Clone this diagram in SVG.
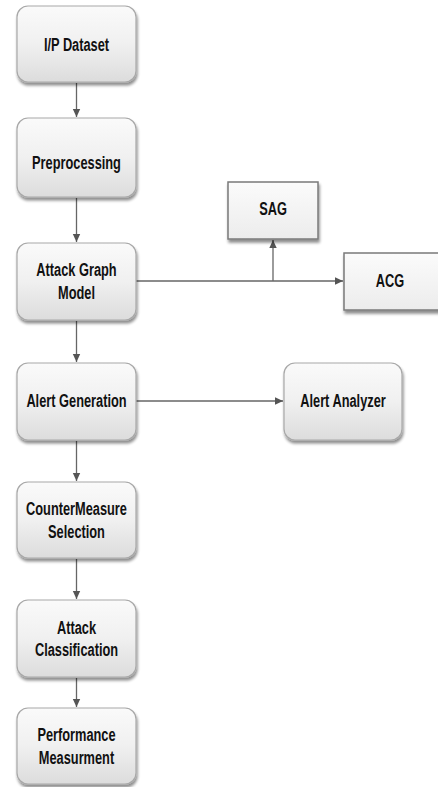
<svg xmlns="http://www.w3.org/2000/svg" width="438" height="787" viewBox="0 0 438 787">
<defs>
<linearGradient id="g" x1="0" y1="0" x2="0" y2="1">
<stop offset="0" stop-color="#fafafa"/>
<stop offset="0.5" stop-color="#f0f0f0"/>
<stop offset="1" stop-color="#dcdcdc"/>
</linearGradient>
<linearGradient id="gs" x1="0" y1="0" x2="0" y2="1">
<stop offset="0" stop-color="#fbfbfb"/>
<stop offset="1" stop-color="#ececec"/>
</linearGradient>
<filter id="sh" x="-10%" y="-10%" width="130%" height="130%">
<feGaussianBlur in="SourceAlpha" stdDeviation="1.5"/>
<feOffset dx="1" dy="2.5" result="o"/>
<feComponentTransfer><feFuncA type="linear" slope="0.45"/></feComponentTransfer>
<feMerge><feMergeNode/><feMergeNode in="SourceGraphic"/></feMerge>
</filter>
<marker id="ah" markerWidth="9" markerHeight="9" refX="8" refY="4.5" orient="auto" markerUnits="userSpaceOnUse">
<path d="M0,0.8 L8,4.5 L0,8.2 Z" fill="#555"/>
</marker>
</defs>
<style>
.rb{fill:url(#g);stroke:#a8a8a8;stroke-width:1.2;filter:url(#sh)}
.sb{fill:url(#gs);stroke:#7a7a7a;stroke-width:1.5;filter:url(#sh)}
text{font-family:"Liberation Sans","Arial",sans-serif;font-weight:bold;font-size:16px;fill:#111;text-anchor:middle}
.c{stroke:#666;stroke-width:1.3;fill:none;marker-end:url(#ah)}
</style>
<g id="connectors">
<line class="c" x1="76.5" y1="83" x2="76.5" y2="117"/>
<line class="c" x1="76.5" y1="198" x2="76.5" y2="242"/>
<line class="c" x1="76.5" y1="321" x2="76.5" y2="362"/>
<line class="c" x1="76.5" y1="441" x2="76.5" y2="481"/>
<line class="c" x1="76.5" y1="559" x2="76.5" y2="599"/>
<line class="c" x1="76.5" y1="678" x2="76.5" y2="707"/>
<line class="c" x1="136" y1="281" x2="343" y2="281"/>
<line class="c" x1="273" y1="281" x2="273" y2="240"/>
<line class="c" x1="136" y1="401" x2="283" y2="401"/>
</g>
<g id="ip-dataset">
<rect class="rb" x="17" y="6" width="119" height="76" rx="11"/>
<text transform="translate(76.5,51) scale(0.8,1.12)">I/P Dataset</text>
</g>
<g id="preprocessing">
<rect class="rb" x="17" y="118" width="119" height="79" rx="11"/>
<text transform="translate(76.5,169) scale(0.8,1.12)">Preprocessing</text>
</g>
<g id="attack-graph-model">
<rect class="rb" x="17" y="243" width="119" height="77" rx="11"/>
<text transform="translate(76.5,276) scale(0.8,1.12)">Attack Graph</text>
<text transform="translate(76.5,299) scale(0.8,1.12)">Model</text>
</g>
<g id="alert-generation">
<rect class="rb" x="17" y="363" width="119" height="77" rx="11"/>
<text transform="translate(76.5,407) scale(0.8,1.12)">Alert Generation</text>
</g>
<g id="countermeasure-selection">
<rect class="rb" x="17" y="482" width="119" height="76" rx="11"/>
<text transform="translate(76.5,515) scale(0.8,1.12)">CounterMeasure</text>
<text transform="translate(76.5,538) scale(0.8,1.12)">Selection</text>
</g>
<g id="attack-classification">
<rect class="rb" x="17" y="600" width="119" height="77" rx="11"/>
<text transform="translate(76.5,634) scale(0.8,1.12)">Attack</text>
<text transform="translate(76.5,656) scale(0.8,1.12)">Classification</text>
</g>
<g id="performance-measurment">
<rect class="rb" x="17" y="708" width="119" height="76" rx="11"/>
<text transform="translate(76.5,741) scale(0.8,1.12)">Performance</text>
<text transform="translate(76.5,764) scale(0.8,1.12)">Measurment</text>
</g>
<g id="sag">
<rect class="sb" x="228" y="182" width="90" height="57"/>
<text transform="translate(273,215) scale(0.8,1.12)">SAG</text>
</g>
<g id="acg">
<rect class="sb" x="344" y="253" width="96" height="57"/>
<text transform="translate(390,287) scale(0.8,1.12)">ACG</text>
</g>
<g id="alert-analyzer">
<rect class="rb" x="284" y="363" width="118" height="77" rx="11"/>
<text transform="translate(343,407) scale(0.8,1.12)">Alert Analyzer</text>
</g>
</svg>
